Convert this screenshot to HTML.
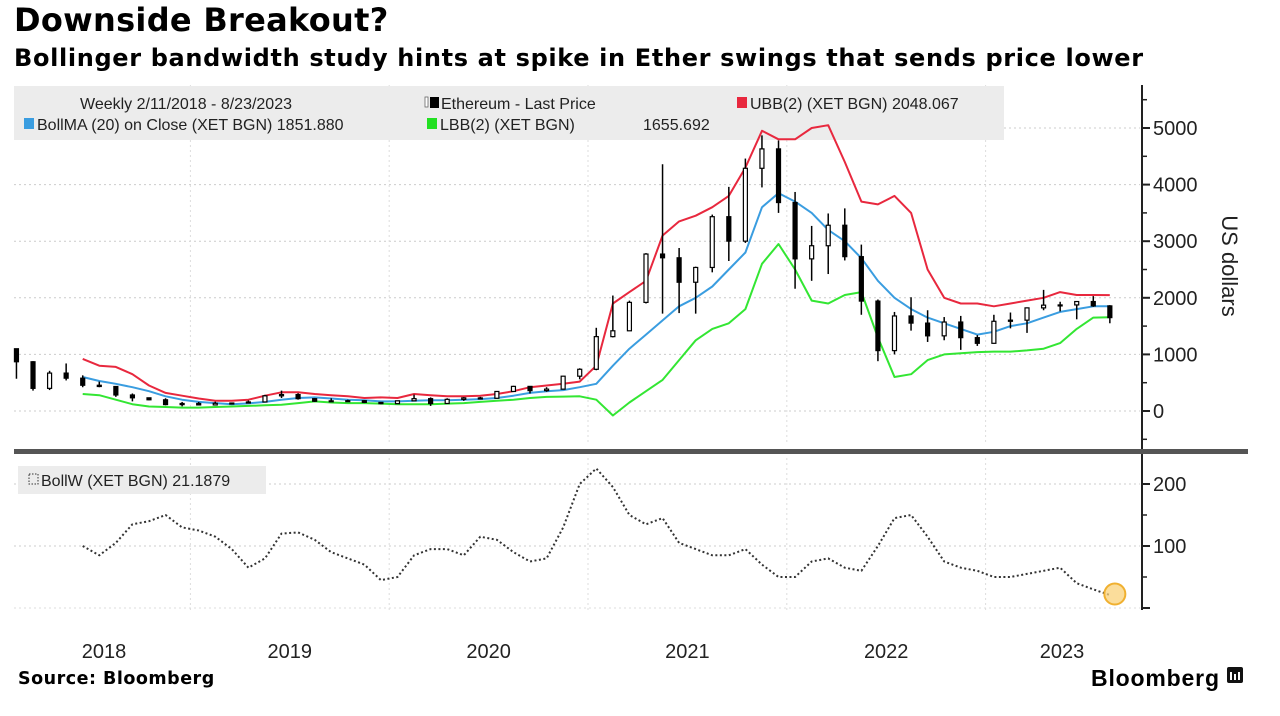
<!DOCTYPE html>
<html><head><meta charset="utf-8">
<style>
body{margin:0;background:#fff;width:1280px;height:716px;overflow:hidden;font-family:"Liberation Sans",sans-serif;}
#t{position:absolute;left:14px;top:1px;font-size:32px;font-weight:bold;color:#000;font-family:"DejaVu Sans",sans-serif;letter-spacing:0.3px}
#st{position:absolute;left:14px;top:44px;font-size:24px;font-weight:bold;color:#000;letter-spacing:0.65px;font-family:"DejaVu Sans",sans-serif;}
svg{position:absolute;left:0;top:0}
</style></head><body>
<div id="t">Downside Breakout?</div>
<div id="st">Bollinger bandwidth study hints at spike in Ether swings that sends price lower</div>
<svg id="c" width="1280" height="716"></svg>
<script>
// ---- data (monthly) ----
const priceClose=[870,400,670,580,455,433,283,233,198,113,133,
107,136,141,160,268,290,218,172,180,182,152,130,
180,218,133,206,231,225,345,435,360,386,615,737,
1314,1417,1919,2773,2707,2275,2536,3433,3001,4288,4631,3683,
2688,2920,3282,2727,1942,1067,1679,1553,1328,1572,1296,1196,
1585,1605,1822,1870,1874,1934,1857,1650];
const priceHigh=[970,880,710,840,630,520,440,310,235,225,160,
160,165,150,185,285,360,315,230,225,200,190,150,
185,290,240,225,245,250,350,445,400,420,620,755,
1470,2040,1950,2790,4360,2880,2550,3470,3960,4460,4870,4780,
3870,3270,3490,3580,2940,1970,1750,2010,1780,1660,1680,1340,
1700,1740,1830,2140,1930,1930,2030,1870];
const priceLow=[570,360,370,540,420,420,250,170,190,100,82,
100,100,130,150,160,230,200,160,160,160,140,120,
125,180,90,130,180,215,225,345,310,340,380,560,
720,1300,1440,1900,1720,1730,1720,2450,2650,2970,3950,3500,
2160,2300,2420,2660,1700,880,1000,1420,1220,1250,1080,1150,
1190,1460,1380,1780,1760,1620,1840,1550];
const ubb=[920,800,780,650,450,320,270,
220,180,180,200,270,330,330,300,280,260,230,240,
230,300,280,260,260,270,300,350,420,450,480,520,
800,1900,2100,2300,3100,3350,3450,3600,3800,4300,4950,4800,
4800,5000,5050,4400,3700,3650,3800,3500,2500,2000,1900,1900,
1850,1900,1950,2000,2100,2050,2050,2048];
const ma=[600,530,480,420,350,260,200,
160,140,120,135,160,200,230,240,220,200,190,170,
170,180,190,190,200,210,230,270,320,350,370,420,
480,800,1100,1350,1600,1850,2000,2200,2500,2800,3600,3850,
3700,3500,3200,3000,2700,2300,2000,1800,1650,1550,1450,1350,
1400,1500,1550,1650,1750,1800,1850,1852];
const lbb=[300,280,200,120,80,70,60,
60,70,80,90,100,110,140,170,150,140,140,130,
120,120,120,130,140,160,180,200,230,250,255,260,
200,-80,150,350,550,900,1250,1450,1550,1800,2600,2950,
2500,1950,1900,2050,2100,1300,600,650,900,1000,1020,1040,
1050,1050,1070,1100,1200,1450,1650,1656];
const bollW=[100,85,105,135,140,150,130,
125,115,95,65,80,120,122,110,90,80,70,45,
50,85,95,95,85,115,110,90,75,80,130,200,
225,195,150,135,145,105,95,85,85,95,70,50,
50,75,80,65,60,100,145,150,115,75,65,60,
50,50,55,60,65,40,30,21];
const priceTicks=[0,1000,2000,3000,4000,5000];
const bwTicks=[100,200];
const yearLabels=["2018","2019","2020","2021","2022","2023"];

// ---- axes ----
const yr0=-8.4, yrW=198.8;
const xMonth=(i,startMonth)=>{const m=startMonth+i;return yr0+(m+0.5)/12*yrW;};
const yP=v=>411-v*0.0566;
const yB=v=>608-v*0.62;
const NS="http://www.w3.org/2000/svg";
const svg=document.getElementById('c');
function mk(tag,attrs,parent){const e=document.createElementNS(NS,tag);for(const k in attrs)e.setAttribute(k,attrs[k]);(parent||svg).appendChild(e);return e;}

const grid=mk('g',{});


priceTicks.forEach(v=>mk('line',{x1:14,x2:1140,y1:yP(v),y2:yP(v),stroke:'#ccc','stroke-dasharray':'2,3'},grid));
bwTicks.forEach(v=>mk('line',{x1:14,x2:1140,y1:yB(v),y2:yB(v),stroke:'#ccc','stroke-dasharray':'2,3'},grid));
mk('line',{x1:14,x2:1140,y1:yB(0),y2:yB(0),stroke:'#ddd','stroke-dasharray':'2,3'},grid);
for(let k=1;k<=5;k++){const x=yr0+k*yrW;mk('line',{x1:x,x2:x,y1:85,y2:445,stroke:'#ddd','stroke-dasharray':'2,3'},grid);mk('line',{x1:x,x2:x,y1:458,y2:612,stroke:'#ddd','stroke-dasharray':'2,3'},grid);}

const lg=mk('rect',{x:14,y:86,width:990,height:54,fill:'#ececec'});


function txt(x,y,s,attrs){const t=mk('text',Object.assign({x:x,y:y,'font-size':16,fill:'#222','font-family':'Liberation Sans, sans-serif'},attrs||{}));t.textContent=s;return t;}
let e;
e=txt(80,109,"Weekly 2/11/2018 - 8/23/2023");
mk('rect',{x:425,y:97,width:3,height:10,fill:'#fff',stroke:'#666','stroke-width':0.8});
mk('rect',{x:430,y:97,width:9,height:11,fill:'#000'});
e=txt(441,109,"Ethereum - Last Price");
mk('rect',{x:737,y:97,width:10,height:11,fill:'#e8283e'});
e=txt(750,109,"UBB(2) (XET BGN) 2048.067");
mk('rect',{x:24,y:118,width:10,height:11,fill:'#3a9de0'});
e=txt(37,130,"BollMA (20)  on Close (XET BGN) 1851.880");
mk('rect',{x:427,y:118,width:10,height:11,fill:'#22e022'});
e=txt(440,130,"LBB(2) (XET BGN)");
txt(643,130,"1655.692");

function line(arr,start,yf,color,name,dash,w){
  const pts=arr.map((v,i)=>xMonth(i,start).toFixed(1)+','+yf(v).toFixed(1)).join(' ');
  const p=mk('polyline',{points:pts,fill:'none',stroke:color,'stroke-width':w||2,'stroke-linejoin':'round'});
  if(dash)p.setAttribute('stroke-dasharray',dash);
  
  
  return p;
}
line(ubb,5,yP,'#e8283e','ubb-line');
line(lbb,5,yP,'#33e633','lbb-line');
line(ma,5,yP,'#3a9de0','bollma-line');

const cg=mk('g',{});


priceClose.forEach((c,i)=>{
  const o=i===0?1100:priceClose[i-1];
  const x=xMonth(i,1);
  mk('line',{x1:x,x2:x,y1:yP(priceHigh[i]),y2:yP(priceLow[i]),stroke:'#000','stroke-width':1.5},cg);
  const top=yP(Math.max(o,c)),bot=yP(Math.min(o,c));
  mk('rect',{x:x-2,y:top,width:4,height:Math.max(1,bot-top),fill:c>=o?'#fff':'#000',stroke:'#000','stroke-width':1.2},cg);
});

line(bollW,5,yB,'#333','bollw-line','2,2.5',2);
e=mk('circle',{cx:xMonth(bollW.length-1,5)+5,cy:yB(bollW[bollW.length-1])-1,r:10.5,fill:'#f9d27a','fill-opacity':0.75,stroke:'#f0b030','stroke-width':2});

e=mk('rect',{x:18,y:466,width:248,height:28,fill:'#ececec'});

mk('rect',{x:29,y:474,width:9,height:10,fill:'none',stroke:'#333','stroke-dasharray':'1.5,1.5'});
e=txt(41,486,"BollW (XET BGN) 21.1879");

e=mk('rect',{x:14,y:449,width:1234,height:5,fill:'#555'});


const ax=mk('g',{});


mk('line',{x1:1142,x2:1142,y1:85,y2:449,stroke:'#222','stroke-width':2},ax);
mk('line',{x1:1142,x2:1142,y1:454,y2:610,stroke:'#222','stroke-width':2},ax);
priceTicks.forEach(v=>{const y=yP(v);mk('line',{x1:1142,x2:1150,y1:y,y2:y,stroke:'#222','stroke-width':2},ax);
  txt(1153,y+7,String(v),{'font-size':20,fill:'#222'});});
for(let v=500;v<=5500;v+=1000)mk('line',{x1:1142,x2:1147,y1:yP(v),y2:yP(v),stroke:'#222','stroke-width':1.5},ax);
mk('line',{x1:1142,x2:1147,y1:yP(-500),y2:yP(-500),stroke:'#222','stroke-width':1.5},ax);
[0,100,200].forEach(v=>{const y=yB(v);mk('line',{x1:1142,x2:1150,y1:y,y2:y,stroke:'#222','stroke-width':2},ax);
  if(v>0)txt(1153,y+7,String(v),{'font-size':20,fill:'#222'});});
[50,150].forEach(v=>mk('line',{x1:1142,x2:1147,y1:yB(v),y2:yB(v),stroke:'#222','stroke-width':1.5},ax));
e=txt(0,0,"US dollars",{'font-size':22,fill:'#222','text-anchor':'middle',transform:'translate(1222,266) rotate(90)'});


yearLabels.forEach((s,k)=>{const x=k===0?104:(k<5?yr0+(k+0.5)*yrW:1062);const t=txt(x,658,s,{'font-size':20,fill:'#222','text-anchor':'middle'});
  });

e=txt(18,684,"Source: Bloomberg",{'font-size':17.5,'font-weight':'bold',fill:'#000','font-family':'DejaVu Sans, sans-serif','letter-spacing':'0.5'});

e=txt(1091,686,"Bloomberg",{'font-size':23,'font-weight':'bold',fill:'#000','textLength':128});

mk('rect',{x:1227,y:667,width:16,height:16,rx:2,fill:'#111'});
[1231,1235,1239].forEach((x,i)=>mk('rect',{x:x-1,y:672+(i%2)*2,width:2,height:8-(i%2)*2,fill:'#fff'}));
</script>
</body></html>
